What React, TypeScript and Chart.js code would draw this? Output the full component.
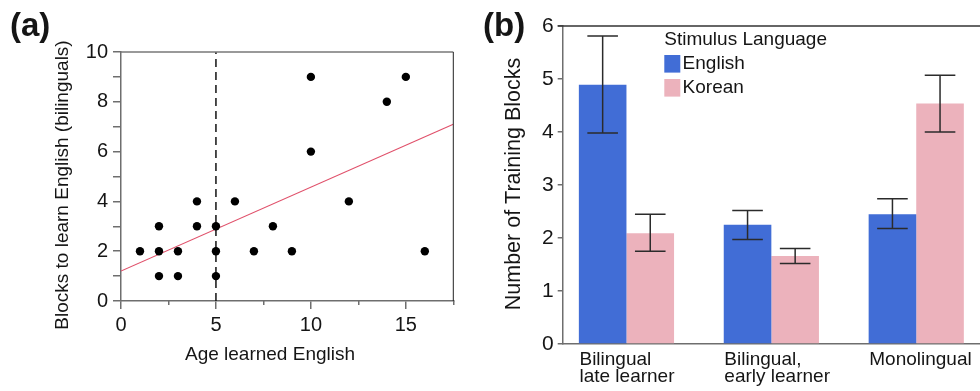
import React, { useEffect, useRef } from "react";
import { Chart, registerables } from "chart.js";

Chart.register(...registerables);

const FONT = '"Liberation Sans", Arial, Helvetica, sans-serif';
const INK = "#151515";
const AXIS = "#6e6e6e";
const BLUE = "#416dd6";
const PINK = "#ecb2bc";

// ---------- Panel (a) data ----------
const ageLearned = [1, 2, 2, 2, 3, 3, 4, 4, 5, 5, 5, 6, 7, 8, 9, 10, 10, 12, 14, 15, 16];
const blocksToLearn = [2, 3, 2, 1, 2, 1, 4, 3, 3, 2, 1, 4, 2, 3, 2, 9, 6, 4, 8, 9, 2];
const fitAge = [0, 17.5];
const fitBlocks = [1.2, 7.1];
const cutoffAge = [5, 5];
const cutoffBlocks = [0, 10];
const ageTicks = [0, 5, 10, 15];
const ageMinorTicks = [2.5, 7.5, 12.5, 17.5];
const blockTicks = [0, 1, 2, 3, 4, 5, 6, 7, 8, 9, 10];
const blockLabels = ["0", "", "2", "", "4", "", "6", "", "8", "", "10"];

// ---------- Panel (b) data ----------
const groupLabels = [["Bilingual", "late learner"], ["Bilingual,", "early learner"], ["Monolingual"]];
const groupIndex = [0, 1, 2];
const languages = ["English", "Korean"];
const englishMean = [4.89, 2.25, 2.45];
const englishLow = [3.98, 1.97, 2.18];
const englishHigh = [5.81, 2.52, 2.74];
const koreanMean = [2.09, 1.66, 4.54];
const koreanLow = [1.75, 1.52, 4.0];
const koreanHigh = [2.45, 1.8, 5.07];
const trainingTicks = [0, 1, 2, 3, 4, 5, 6];

const errLow = [englishLow, koreanLow];
const errHigh = [englishHigh, koreanHigh];

const panelAPlugin = {
  id: "panelADecor",
  afterDraw(chart: any) {
    const { ctx, chartArea: a } = chart;
    ctx.save();
    ctx.strokeStyle = "#777";
    ctx.lineWidth = 1.5;
    ctx.beginPath();
    ctx.moveTo(a.left, a.top);
    ctx.lineTo(a.right, a.top);
    ctx.stroke();
    ctx.strokeStyle = "#222";
    ctx.lineWidth = 1;
    ctx.beginPath();
    ctx.moveTo(a.right, a.top);
    ctx.lineTo(a.right, a.bottom);
    ctx.stroke();

    ctx.fillStyle = INK;
    ctx.font = `bold 33px ${FONT}`;
    ctx.textAlign = "left";
    ctx.textBaseline = "alphabetic";
    ctx.fillText("(a)", 10, 36);

    ctx.font = `19px ${FONT}`;
    ctx.textAlign = "center";
    ctx.textBaseline = "middle";
    ctx.fillText("Age learned English", 270, 355);

    ctx.translate(63, 185);
    ctx.rotate(-Math.PI / 2);
    ctx.fillText("Blocks to learn English (bilinguals)", 0, 0);
    ctx.restore();
  },
};

const panelBPlugin = {
  id: "panelBDecor",
  afterDatasetsDraw(chart: any) {
    const { ctx } = chart;
    const y = chart.scales.y;
    ctx.save();
    ctx.strokeStyle = "#2b2b2b";
    ctx.lineWidth = 1.5;
    chart.data.datasets.forEach((_ds: any, di: number) => {
      const meta = chart.getDatasetMeta(di);
      meta.data.forEach((bar: any, i: number) => {
        const cx = bar.x;
        const yl = y.getPixelForValue(errLow[di][i]);
        const yh = y.getPixelForValue(errHigh[di][i]);
        ctx.beginPath();
        ctx.moveTo(cx, yh);
        ctx.lineTo(cx, yl);
        ctx.moveTo(cx - 15.3, yh);
        ctx.lineTo(cx + 15.3, yh);
        ctx.moveTo(cx - 15.3, yl);
        ctx.lineTo(cx + 15.3, yl);
        ctx.stroke();
      });
    });
    ctx.restore();
  },
  afterDraw(chart: any) {
    const { ctx, chartArea: a } = chart;
    ctx.save();
    ctx.strokeStyle = "#333";
    ctx.lineWidth = 1.5;
    ctx.beginPath();
    ctx.moveTo(a.left - 5, a.top);
    ctx.lineTo(a.right, a.top);
    ctx.stroke();

    ctx.fillStyle = INK;
    ctx.font = `bold 33px ${FONT}`;
    ctx.textAlign = "left";
    ctx.textBaseline = "alphabetic";
    ctx.fillText("(b)", 13, 36);

    // legend
    const lx = a.left + 101.6;
    ctx.font = `19px ${FONT}`;
    ctx.fillText("Stimulus Language", lx, 45.3);
    chart.data.datasets.forEach((ds: any, i: number) => {
      ctx.fillStyle = ds.backgroundColor;
      ctx.fillRect(lx, 55 + i * 24, 16, 17.6);
      ctx.fillStyle = INK;
      ctx.fillText(ds.label, lx + 18.3, 68.5 + i * 24.8);
    });

    // y title
    ctx.font = `21.5px ${FONT}`;
    ctx.textAlign = "center";
    ctx.textBaseline = "middle";
    ctx.translate(44, 184);
    ctx.rotate(-Math.PI / 2);
    ctx.fillText("Number of Training Blocks", 0, 0);
    ctx.restore();
  },
};

export default function App() {
  const refA = useRef<HTMLCanvasElement>(null);
  const refB = useRef<HTMLCanvasElement>(null);

  useEffect(() => {
    const chartA = new Chart(refA.current as HTMLCanvasElement, {
      type: "scatter",
      data: {
        datasets: [
          {
            type: "scatter",
            label: "Bilinguals",
            data: ageLearned.map((x, i) => ({ x, y: blocksToLearn[i] })),
            backgroundColor: "#000",
            borderWidth: 0,
            pointRadius: 4.2,
            pointHoverRadius: 4.2,
          },
          {
            type: "line",
            label: "Fit",
            data: fitAge.map((x, i) => ({ x, y: fitBlocks[i] })),
            borderColor: "#e0506a",
            borderWidth: 1.1,
            pointRadius: 0,
            fill: false,
            tension: 0,
          },
          {
            type: "line",
            label: "Cutoff",
            data: cutoffAge.map((x, i) => ({ x, y: cutoffBlocks[i] })),
            borderColor: "#111",
            borderWidth: 1.5,
            borderDash: [8, 5],
            pointRadius: 0,
            fill: false,
          },
        ],
      } as any,
      options: {
        responsive: false,
        maintainAspectRatio: false,
        animation: false,
        events: [],
        layout: { padding: { left: 0, top: 52, right: 26.7, bottom: 0 } },
        plugins: { legend: { display: false }, tooltip: { enabled: false } },
        scales: {
          x: {
            type: "linear",
            position: "bottom",
            min: 0,
            max: 17.5,
            afterBuildTicks: (s: any) => {
              s.ticks = ageTicks.map((v) => ({ value: v }));
            },
            afterFit: (s: any) => {
              s.height = 90;
              s.paddingLeft = 0;
              s.paddingRight = 0;
            },
            grid: { drawOnChartArea: false, drawTicks: true, tickLength: 8, color: AXIS, lineWidth: 1.5 },
            border: { display: true, color: AXIS, width: 1.5 },
            ticks: {
              padding: 4,
              color: INK,
              font: { size: 20, family: FONT },
              maxRotation: 0,
              autoSkip: false,
              callback: (v: any) => String(v),
            },
          },
          xm: {
            type: "linear",
            axis: "x",
            position: { y: 0 },
            min: 0,
            max: 17.5,
            afterBuildTicks: (s: any) => {
              s.ticks = ageMinorTicks.map((v) => ({ value: v }));
            },
            grid: { drawOnChartArea: false, drawTicks: true, tickLength: 4, color: AXIS, lineWidth: 1.5 },
            border: { display: false },
            ticks: { display: false },
          },
          y: {
            type: "linear",
            min: 0,
            max: 10,
            afterBuildTicks: (s: any) => {
              s.ticks = blockTicks.map((v) => ({ value: v }));
            },
            afterFit: (s: any) => {
              s.width = 121;
              s.paddingTop = 0;
              s.paddingBottom = 0;
            },
            grid: { drawOnChartArea: false, drawTicks: true, tickLength: 8, color: AXIS, lineWidth: 1.5 },
            border: { display: true, color: AXIS, width: 1.5 },
            ticks: {
              padding: 5,
              color: INK,
              font: { size: 20, family: FONT },
              autoSkip: false,
              callback: (_v: any, i: number) => blockLabels[i],
            },
          },
        } as any,
      },
      plugins: [panelAPlugin],
    });

    const chartB = new Chart(refB.current as HTMLCanvasElement, {
      type: "bar",
      data: {
        datasets: [
          {
            label: languages[0],
            data: groupIndex.map((x, i) => ({ x, y: englishMean[i] })),
            backgroundColor: BLUE,
            borderWidth: 0,
            categoryPercentage: 0.657,
            barPercentage: 1,
          },
          {
            label: languages[1],
            data: groupIndex.map((x, i) => ({ x, y: koreanMean[i] })),
            backgroundColor: PINK,
            borderWidth: 0,
            categoryPercentage: 0.657,
            barPercentage: 1,
          },
        ],
      } as any,
      options: {
        responsive: false,
        maintainAspectRatio: false,
        animation: false,
        events: [],
        layout: { padding: { left: 0, top: 26, right: 0, bottom: 0 } },
        plugins: { legend: { display: false }, tooltip: { enabled: false } },
        scales: {
          x: {
            type: "linear",
            min: -0.44,
            max: 2.44,
            offset: false,
            afterBuildTicks: (s: any) => {
              s.ticks = groupIndex.map((v) => ({ value: v }));
            },
            afterFit: (s: any) => {
              s.height = 47;
              s.paddingLeft = 0;
              s.paddingRight = 0;
            },
            grid: { display: false, drawTicks: false, tickLength: 0, offset: false },
            border: { display: true, color: AXIS, width: 1.5 },
            ticks: {
              align: "start",
              labelOffset: -47,
              padding: 7,
              color: INK,
              font: { size: 19, family: FONT, lineHeight: 0.9 },
              maxRotation: 0,
              minRotation: 0,
              autoSkip: false,
              callback: (_v: any, i: number) => groupLabels[i],
            },
          },
          y: {
            type: "linear",
            min: 0,
            max: 6,
            afterBuildTicks: (s: any) => {
              s.ticks = trainingTicks.map((v) => ({ value: v }));
            },
            afterFit: (s: any) => {
              s.width = 92.7;
              s.paddingTop = 0;
              s.paddingBottom = 0;
            },
            grid: { drawOnChartArea: false, drawTicks: true, tickLength: 5, color: AXIS, lineWidth: 1.5 },
            border: { display: true, color: AXIS, width: 1.5 },
            ticks: {
              padding: 4,
              color: INK,
              font: { size: 21, family: FONT },
              autoSkip: false,
              callback: (v: any) => String(v),
            },
          },
        } as any,
      },
      plugins: [panelBPlugin],
    });

    return () => {
      chartA.destroy();
      chartB.destroy();
    };
  }, []);

  return (
    <div style={{ position: "absolute", left: 0, top: 0, width: 980, height: 391, background: "#fff", overflow: "hidden" }}>
      <canvas
        ref={refA}
        width={480}
        height={391}
        style={{ position: "absolute", left: 0, top: 0, width: 480, height: 391 }}
      />
      <canvas
        ref={refB}
        width={510}
        height={391}
        style={{ position: "absolute", left: 470, top: 0, width: 510, height: 391 }}
      />
    </div>
  );
}
